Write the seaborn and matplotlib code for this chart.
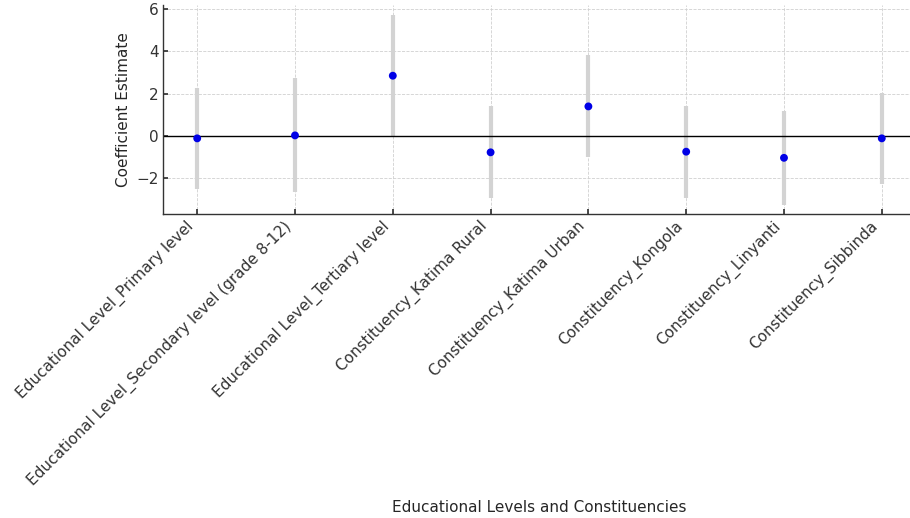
import numpy as np
import pandas as pd
import matplotlib
matplotlib.use("Agg")
import matplotlib.pyplot as plt
import seaborn as sns

# Regression terms and their estimates with 95% confidence bounds
terms = [
    "Educational Level_Primary level",
    "Educational Level_Secondary level (grade 8-12)",
    "Educational Level_Tertiary level",
    "Constituency_Katima Rural",
    "Constituency_Katima Urban",
    "Constituency_Kongola",
    "Constituency_Linyanti",
    "Constituency_Sibbinda",
]
coef = [-0.11, 0.03, 2.85, -0.77, 1.40, -0.74, -1.03, -0.11]
ci_low = [-2.49, -2.66, 0.00, -2.95, -1.01, -2.92, -3.25, -2.29]
ci_high = [2.26, 2.76, 5.72, 1.42, 3.83, 1.42, 1.18, 2.05]

df = pd.DataFrame({"term": terms, "coef": coef, "low": ci_low, "high": ci_high})
df["pos"] = np.arange(len(df))

sns.set_theme(style="ticks", rc={
    "axes.edgecolor": "#333333",
    "axes.linewidth": 1.0,
    "xtick.direction": "in",
    "ytick.direction": "in",
    "xtick.major.size": 3.5,
    "ytick.major.size": 3.5,
    "xtick.color": "#333333",
    "ytick.color": "#333333",
    "text.color": "#262626",
    "axes.labelcolor": "#262626",
})
plt.rcParams["font.family"] = ["DejaVu Sans"]

fig = plt.figure(figsize=(9.1, 5.18), dpi=100)
ax = fig.add_axes([0.1791, 0.5863, 0.8275, 0.4031])

# confidence intervals as thick gray bars
ax.vlines(df["pos"], df["low"], df["high"], color="#d3d3d3", linewidth=3, zorder=2)
# point estimates
sns.scatterplot(data=df, x="pos", y="coef", color="#0000e6", s=32,
                edgecolor="none", ax=ax, zorder=3)
ax.axhline(0, color="black", linewidth=1, zorder=2.5)

ax.margins(x=0.05, y=0.05)
ax.set_xticks(df["pos"])
ax.set_xticklabels(df["term"], rotation=45, ha="right", fontsize=11)
ax.set_yticks([-2, 0, 2, 4, 6])
ax.tick_params(axis="y", labelsize=11, pad=3)
ax.tick_params(axis="x", pad=3)
ax.grid(True, linestyle="--", linewidth=0.6, color="#d0d0d0")
ax.set_axisbelow(True)
ax.spines["top"].set_visible(False)
ax.spines["right"].set_visible(False)

ax.set_xlabel("Educational Levels and Constituencies", fontsize=11, labelpad=8)
ax.set_ylabel("Coefficient Estimate", fontsize=11)

fig.savefig("out.png", dpi=100)
